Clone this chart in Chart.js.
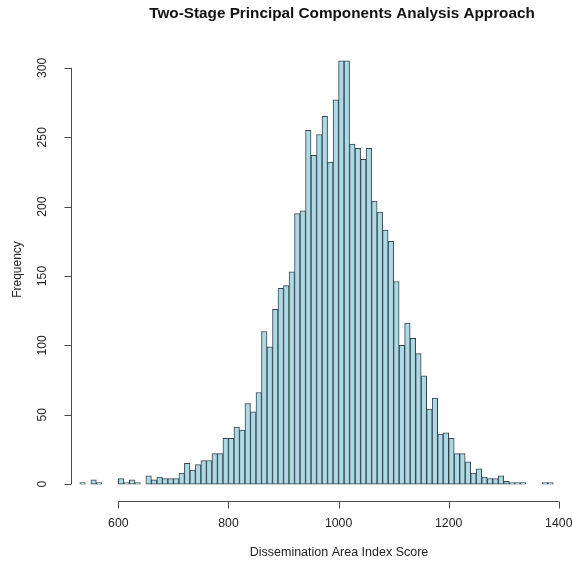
<!DOCTYPE html>
<html>
<head>
<meta charset="utf-8">
<title>Two-Stage Principal Components Analysis Approach</title>
<script src="https://cdn.jsdelivr.net/npm/chart.js@4/dist/chart.umd.min.js"></script>
<style>
  html, body { margin: 0; padding: 0; background: #ffffff; }
  #wrap { width: 572px; height: 566px; }
</style>
</head>
<body>
<div id="wrap"><canvas id="hist" width="572" height="566"></canvas></div>
<script>
// Histogram bins (left edge of each 10-point bin)
const binStarts = [
  530, 540, 550, 560, 570, 580, 590, 600, 610, 620,
  630, 640, 650, 660, 670, 680, 690, 700, 710, 720,
  730, 740, 750, 760, 770, 780, 790, 800, 810, 820,
  830, 840, 850, 860, 870, 880, 890, 900, 910, 920,
  930, 940, 950, 960, 970, 980, 990, 1000, 1010, 1020,
  1030, 1040, 1050, 1060, 1070, 1080, 1090, 1100, 1110, 1120,
  1130, 1140, 1150, 1160, 1170, 1180, 1190, 1200, 1210, 1220,
  1230, 1240, 1250, 1260, 1270, 1280, 1290, 1300, 1310, 1320,
  1330, 1340, 1350, 1360, 1370, 1380
];
const binWidth = 10;

// Number of dissemination areas in each bin
const counts = [
  1, 0, 3, 1, 0, 0, 0, 4, 1, 3,
  1, 0, 6, 3, 5, 4, 4, 4, 8, 15,
  10, 14, 17, 17, 22, 22, 33, 33, 41, 39,
  58, 52, 66, 110, 99, 126, 141, 143, 153, 195,
  197, 255, 237, 252, 265, 232, 277, 305, 305, 245,
  242, 234, 242, 204, 196, 183, 175, 146, 100, 116,
  105, 94, 78, 54, 62, 36, 37, 33, 22, 22,
  16, 8, 11, 5, 4, 4, 6, 2, 1, 1,
  1, 0, 0, 0, 1, 1
];

const xTicks = [600, 800, 1000, 1200, 1400];
const yTicks = [0, 50, 100, 150, 200, 250, 300];

const titleText = 'Two-Stage Principal Components Analysis Approach';
const xTitle = 'Dissemination Area Index Score';
const yTitle = 'Frequency';

const points = binStarts.map((b, i) => ({ x: b + binWidth / 2, y: counts[i] }));

const FONT = '"Liberation Sans", Arial, Helvetica, sans-serif';
const INK = '#222222';
const AXIS = '#4a4a4a';

// R-style axes: lines only span the tick range, ticks point outward
const baseAxes = {
  id: 'baseAxes',
  afterDraw(chart) {
    const ctx = chart.ctx;
    const xs = chart.scales.x;
    const ys = chart.scales.y;
    const area = chart.chartArea;
    ctx.save();
    ctx.strokeStyle = AXIS;
    ctx.lineWidth = 1;
    ctx.fillStyle = INK;

    // x axis
    const axY = Math.round(area.bottom) + 0.5;
    const x0 = xs.getPixelForValue(xTicks[0]);
    const x1 = xs.getPixelForValue(xTicks[xTicks.length - 1]);
    ctx.beginPath();
    ctx.moveTo(x0, axY);
    ctx.lineTo(x1, axY);
    xTicks.forEach(v => {
      const px = Math.round(xs.getPixelForValue(v)) + 0.5;
      ctx.moveTo(px, axY);
      ctx.lineTo(px, axY + 7);
    });
    ctx.stroke();
    ctx.font = '12.3px ' + FONT;
    ctx.textAlign = 'center';
    ctx.textBaseline = 'middle';
    xTicks.forEach(v => {
      ctx.fillText(String(v), xs.getPixelForValue(v), axY + 22);
    });

    // y axis
    const axX = Math.round(area.left) + 0.5;
    const yb = ys.getPixelForValue(yTicks[0]);
    const yt = ys.getPixelForValue(yTicks[yTicks.length - 1]);
    ctx.beginPath();
    ctx.moveTo(axX, yb);
    ctx.lineTo(axX, yt);
    yTicks.forEach(v => {
      const py = Math.round(ys.getPixelForValue(v)) + 0.5;
      ctx.moveTo(axX, py);
      ctx.lineTo(axX - 7, py);
    });
    ctx.stroke();
    yTicks.forEach(v => {
      ctx.save();
      ctx.translate(axX - 29, ys.getPixelForValue(v));
      ctx.rotate(-Math.PI / 2);
      ctx.fillText(String(v), 0, 0);
      ctx.restore();
    });

    // axis titles
    ctx.font = '12.5px ' + FONT;
    ctx.fillText(xTitle, 339, 553);
    ctx.save();
    ctx.translate(18, (area.top + area.bottom) / 2 - 3);
    ctx.rotate(-Math.PI / 2);
    ctx.font = '12px ' + FONT;
    ctx.fillText(yTitle, 0, 0);
    ctx.restore();

    // main title
    ctx.font = 'bold 15.3px ' + FONT;
    ctx.fillStyle = '#111111';
    ctx.fillText(titleText, 342, 14);
    ctx.restore();
  }
};

new Chart(document.getElementById('hist'), {
  type: 'bar',
  data: {
    datasets: [{
      data: points,
      backgroundColor: '#add8e6',
      borderColor: '#34444a',
      borderWidth: 1,
      borderSkipped: false,
      barPercentage: 1.0,
      categoryPercentage: 1.0
    }]
  },
  options: {
    responsive: false,
    devicePixelRatio: 1,
    animation: false,
    layout: { padding: { left: 71, right: 0, top: 44, bottom: 65 } },
    plugins: {
      legend: { display: false },
      tooltip: { enabled: false },
      title: { display: false }
    },
    scales: {
      x: {
        type: 'linear',
        min: 514,
        max: 1424,
        offset: false,
        display: false
      },
      y: {
        type: 'linear',
        min: -12.2,
        max: 317.2,
        display: false
      }
    }
  },
  plugins: [baseAxes]
});
</script>
</body>
</html>
